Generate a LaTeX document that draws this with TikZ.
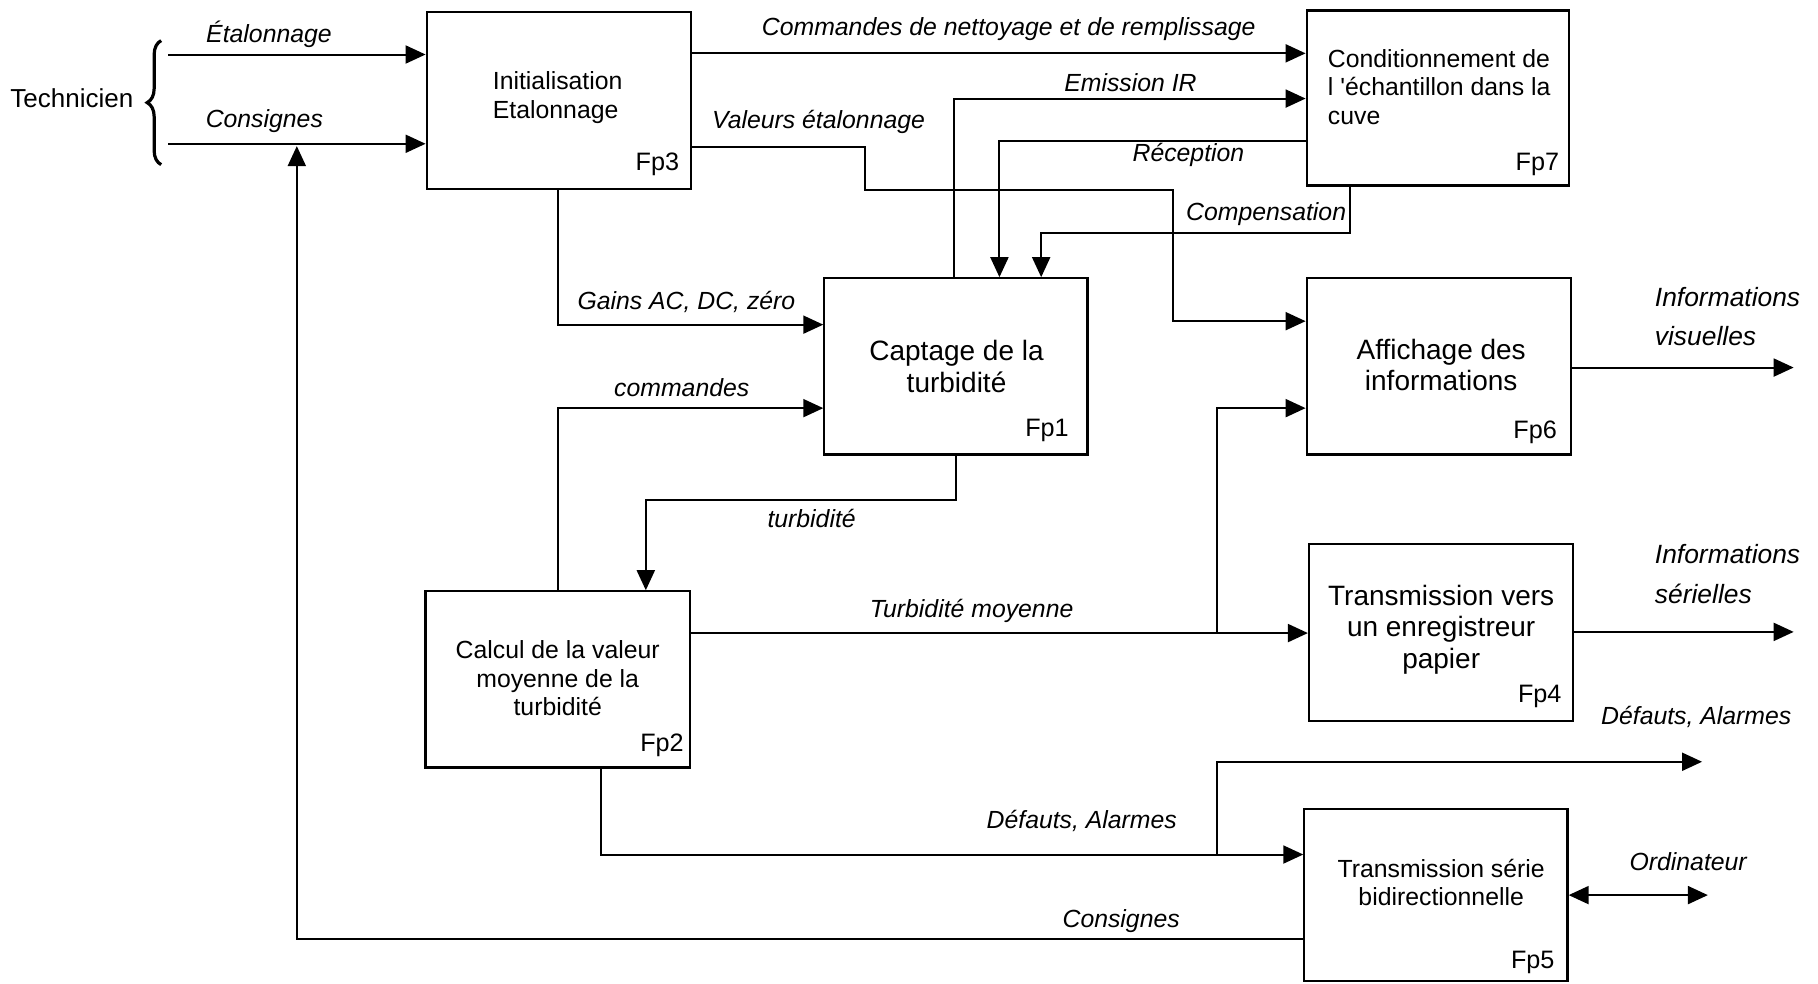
\documentclass[tikz,border=0pt]{standalone}
\usepackage{fontspec}
\setmainfont{Liberation Sans}
\usetikzlibrary{arrows.meta,fit,decorations.pathreplacing}
\tikzset{
  box/.style={draw, line width=1.1pt, inner sep=0pt},
  btxt/.style={font=\fontsize{12.4}{14.2}\selectfont, inner sep=0pt},
  bbig/.style={font=\fontsize{14}{15.6}\selectfont, inner sep=0pt, align=center},
  fpl/.style={font=\fontsize{12.6}{14}\selectfont, inner sep=0pt},
  lbl/.style={font=\itshape\fontsize{12.4}{14}\selectfont, inner sep=0pt},
  lblb/.style={font=\itshape\fontsize{13.2}{15}\selectfont, inner sep=0pt},
  arr/.style={line width=1pt, -{Triangle[length=10pt,width=9pt]}},
  darr/.style={line width=1pt, {Triangle[length=10pt,width=9pt]}-{Triangle[length=10pt,width=9pt]}},
}
\begin{document}
\begin{tikzpicture}[x=0.5797pt, y=-0.5797pt]
\useasboundingbox (0,0) rectangle (1568,848);

% boxes
\node[box, fit={(368,10) (596,163)}] (fp3) {};
\node[box, fit={(1127,9) (1353,160)}] (fp7) {};
\node[box, fit={(711,240) (938,392)}] (fp1) {};
\node[box, fit={(1127,240) (1355,392)}] (fp6) {};
\node[box, fit={(1129,469) (1357,622)}] (fp4) {};
\node[box, fit={(367,510) (595,662)}] (fp2) {};
\node[box, fit={(1125,698) (1352,846)}] (fp5) {};

% box texts
\node[btxt, align=left] (t3) at (481,84) {Initialisation\\Etalonnage};
\node[btxt, align=left, anchor=west] (t7) at (1145,75) {Conditionnement de\\l \textquotesingle échantillon dans la\\cuve};
\node[bbig] (t1) at (825,316) {Captage de la\\turbidité};
\node[bbig] (t6) at (1243,315) {Affichage des\\informations};
\node[bbig] (t4) at (1243,543) {Transmission vers\\un enregistreur\\papier};
\node[btxt, align=center] (t2) at (481,585) {Calcul de la valeur\\moyenne de la\\turbidité};
\node[btxt, align=center] (t5) at (1243,761) {Transmission série\\bidirectionnelle};

% Fp labels
\node[fpl] (l3) at (567,142) {Fp3};
\node[fpl] (l7) at (1326,142) {Fp7};
\node[fpl] (l1) at (903,371) {Fp1};
\node[fpl] (l6) at (1324,373) {Fp6};
\node[fpl] (l4) at (1328,601) {Fp4};
\node[fpl] (l2) at (571,643) {Fp2};
\node[fpl] (l5) at (1322,830) {Fp5};

% Technicien
\node[btxt, font=\fontsize{13}{15}\selectfont] (tech) at (62,85) {Technicien};
\draw[line width=1.6pt, decorate, decoration={brace, amplitude=7pt}] (139,142) -- (139,35);
\coordinate (tE) at (145,47);
\coordinate (tC) at (145,124);
\draw[arr] (tE) -- (fp3.west |- tE);
\draw[arr] (tC) -- (fp3.west |- tC);

% Consignes return
\coordinate (cr) at (256,126);
\draw[arr] (fp5.west |- 0,810) -| (cr);

% Fp3 outputs
\draw[arr] (fp3.east |- 0,46) -- (fp7.west |- 0,46);
\draw[arr] (fp3.east |- 0,127) -- (746,127) -- (746,164) -- (1012,164) -- (1012,277) -- (fp6.west |- 0,277);
\draw[arr] (fp3.south -| 481,0) |- (fp1.west |- 0,280);

% Fp1 <-> Fp7
\draw[arr] (fp1.north -| 823,0) |- (fp7.west |- 0,85);
\draw[arr] (fp7.west |- 0,122) -| (fp1.north -| 862,0);
\draw[arr] (fp7.south -| 1164,0) |- (898,201) -- (fp1.north -| 898,0);

% Fp2 <-> Fp1
\draw[arr] (fp2.north -| 481,0) |- (fp1.west |- 0,352);
\draw[arr] (fp1.south) |- (557,431) -- (fp2.north -| 557,0);

% Turbidite moyenne
\coordinate (jtm) at (1050,546);
\draw[arr] (fp2.east |- jtm) -- (fp4.west |- jtm);
\draw[arr] (jtm) |- (fp6.west |- 0,352);

% outputs right
\coordinate (iv) at (1547,317);
\coordinate (is) at (1547,545);
\draw[arr] (fp6.east |- iv) -- (iv);
\draw[arr] (fp4.east |- is) -- (is);

% Defauts, Alarmes
\coordinate (jda) at (1050,737);
\coordinate (da) at (1468,657);
\draw[arr] (fp2.south -| 518,0) |- (fp5.west |- jda);
\draw[arr] (jda) |- (da);

% Ordinateur
\coordinate (ord) at (1473,772);
\draw[darr] (fp5.east |- ord) -- (ord);

% labels
\node[lbl] (e1) at (232,30) {Étalonnage};
\node[lbl] (e2) at (228,104) {Consignes};
\node[lbl] (e3) at (870,25) {Commandes de nettoyage et de remplissage};
\node[lbl] (e4) at (975,71) {Emission IR};
\node[lbl] (e5) at (706,105) {Valeurs étalonnage};
\node[lbl] (e6) at (1025,134) {Réception};
\node[lbl] (e7) at (1092,185) {Compensation};
\node[lbl] (e8) at (592,260) {Gains AC, DC, zéro};
\node[lbl] (e9) at (588,334) {commandes};
\node[lbl] (e10) at (700,447) {turbidité};
\node[lbl] (e11) at (838,527) {Turbidité moyenne};
\node[lbl] (e12) at (933,708) {Défauts, Alarmes};
\node[lbl] (e13) at (967,794) {Consignes};
\node[lblb, anchor=west] (e14) at (1427,256) {Informations};
\node[lblb, anchor=west] (e15) at (1427,290) {visuelles};
\node[lblb, anchor=west] (e16) at (1427,478) {Informations};
\node[lblb, anchor=west] (e17) at (1427,512) {sérielles};
\node[lbl] (e18) at (1463,618) {Défauts, Alarmes};
\node[lbl] (e19) at (1456,743) {Ordinateur};
\end{tikzpicture}
\end{document}
